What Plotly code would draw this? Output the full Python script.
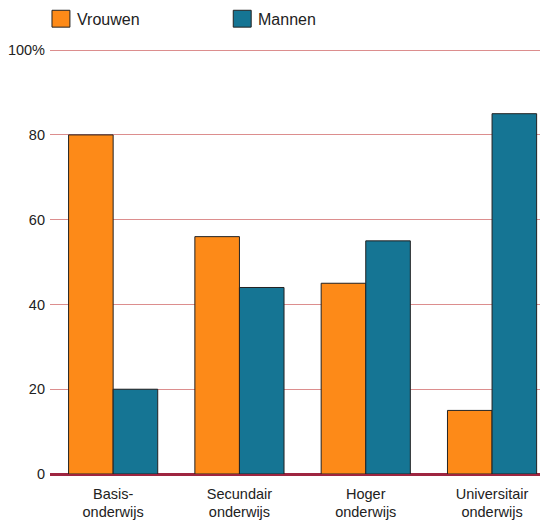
import plotly.graph_objs as go

categories = ["Basis-<br>onderwijs", "Secundair<br>onderwijs", "Hoger<br>onderwijs", "Universitair<br>onderwijs"]
vrouwen = [80, 56, 45, 15]
mannen = [20, 44, 55, 85]
tick_vals = [0, 20, 40, 60, 80, 100]
tick_text = ["0", "20", "40", "60", "80", "100%"]

ORANGE = "#fd8a18"
TEAL = "#157594"

fig = go.Figure()
fig.add_trace(go.Bar(x=categories, y=vrouwen, name="Vrouwen", marker=dict(color=ORANGE, line=dict(color="#222222", width=1))))
fig.add_trace(go.Bar(x=categories, y=mannen, name="Mannen", marker=dict(color=TEAL, line=dict(color="#222222", width=1))))

# the page body adds an 8px offset, so the figure is 8px smaller than the window
OFF = 8
W, H = 548 - OFF, 520 - OFF
L, R, T, B = 48 - OFF, 0, 48 - OFF, 43
pw, ph = W - L - R, H - T - B


def px_x(x):
    return (x - OFF - L) / pw


def px_y(y):
    return (H - B - (y - OFF)) / ph


# manual legend with larger swatches
legend_items = [("Vrouwen", ORANGE, 50), ("Mannen", TEAL, 232)]
for name, col, x0 in legend_items:
    fig.add_shape(type="rect", xref="paper", yref="paper",
                  x0=px_x(x0), x1=px_x(x0 + 18), y0=px_y(27), y1=px_y(10),
                  fillcolor=col, line=dict(color="#222222", width=1))
    fig.add_annotation(text=name, xref="paper", yref="paper", x=px_x(x0 + 23), y=px_y(19),
                       xanchor="left", yanchor="middle", showarrow=False,
                       font=dict(size=16, color="#222222"))

fig.update_layout(
    width=W, height=H,
    margin=dict(l=L, r=R, t=T, b=B),
    plot_bgcolor="white", paper_bgcolor="white",
    barmode="group", bargap=0.294, bargroupgap=0,
    showlegend=False,
    font=dict(family="Liberation Sans, Arial, sans-serif", size=14.5, color="#222222"),
)
# last group runs slightly past the right edge, as in the reference
fig.update_xaxes(range=[-0.5, 3.443], showgrid=False, showline=False, ticks="",
                 tickfont=dict(size=14.5), ticklabelstandoff=9)
fig.update_yaxes(range=[0, 100.5], tickvals=tick_vals, ticktext=tick_text,
                 showgrid=True, gridcolor="#dc8e8e", gridwidth=1.3,
                 zeroline=True, zerolinecolor="#9e2540", zerolinewidth=3,
                 showline=False, ticks="", tickfont=dict(size=14.5), ticklabelstandoff=4)

fig.write_html("out.html")
